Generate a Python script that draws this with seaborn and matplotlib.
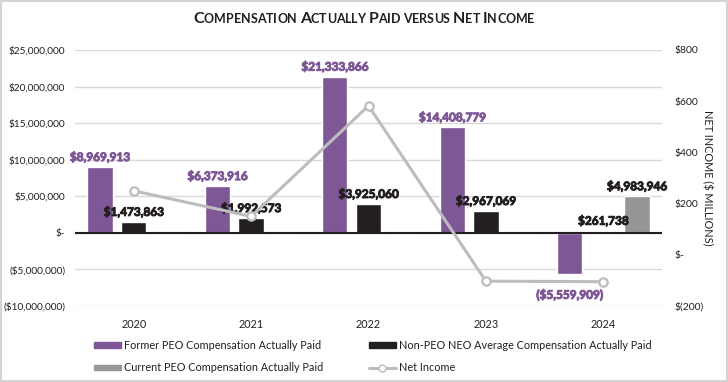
import seaborn as sns
import matplotlib.pyplot as plt
import matplotlib.patheffects as pe
import pandas as pd
from matplotlib.patches import Rectangle
from matplotlib.lines import Line2D
from matplotlib.patches import Patch


years = ['2020', '2021', '2022', '2023', '2024']
series = ['Former PEO Compensation Actually Paid',
          'Non-PEO NEO Average Compensation Actually Paid',
          'Current PEO Compensation Actually Paid']
former_peo = [8969913, 6373916, 21333866, 14408779, -5559909]
non_peo_neo = [1473863, 1992573, 3925060, 2967069, 261738]
current_peo = [0, 0, 0, 0, 4983946]
net_income = [250, 150, 582, -103, -105]  # $ millions

left_ticks = [-10000000, -5000000, 0, 5000000, 10000000, 15000000, 20000000, 25000000]
right_ticks = [-200, 0, 200, 400, 600, 800]

colors = ['#7e5796', '#231f20', '#969696']
label_colors = ['#7e5796', '#231f20', '#231f20']
line_color = '#bdbdbd'


def money(v):
    if v == 0:
        return '$-'
    if v < 0:
        return '(${:,.0f})'.format(-v)
    return '${:,.0f}'.format(v)


def money_right(v):
    if v == 0:
        return '$-'
    if v < 0:
        return '$({:,.0f})'.format(-v)
    return '${:,.0f}'.format(v)


def small_caps(fig, text, y, big=11.5, small=9):
    # fake small caps: upper-case letters big, the rest small upper-case
    r = fig.canvas.get_renderer()
    texts = []
    for word_i, word in enumerate(text.split()):
        if word_i:
            texts.append(fig.text(0, y, ' ', fontsize=small, fontweight='bold', va='baseline'))
        for ch in word:
            size = big if ch.isupper() else small
            texts.append(fig.text(0, y, ch.upper(), fontsize=size, fontweight='bold',
                                  va='baseline', color='#231f20'))
    widths = [t.get_window_extent(r).width for t in texts]
    W = fig.get_figwidth() * fig.dpi
    x = (W - sum(widths)) / 2
    for t, w in zip(texts, widths):
        t.set_x(x / W)
        x += w


df = pd.DataFrame({
    'year': years * 3,
    'series': [series[0]] * 5 + [series[1]] * 5 + [series[2]] * 5,
    'value': former_peo + non_peo_neo + current_peo,
})

sns.set_theme(style='white')
plt.rcParams['font.family'] = ['Lato', 'DejaVu Sans']

fig = plt.figure(figsize=(7.28, 3.82), dpi=100)
ax = fig.add_axes([75 / 728, 1 - 306 / 382, 587 / 728, 256 / 382])

sns.barplot(data=df, x='year', y='value', hue='series', hue_order=series,
            palette=colors, width=0.86, gap=0.25, ax=ax, legend=False,
            saturation=1, errorbar=None, zorder=2)

ax.set_ylim(-10000000, 25000000)
ax.set_xlim(-0.5, 4.5)
ax.set_yticks(left_ticks)
ax.set_yticklabels([money(v) for v in left_ticks], fontsize=7.3, color='#231f20')
ax.tick_params(axis='y', length=0, pad=7)
ax.tick_params(axis='x', length=0, pad=9, labelsize=7.8, labelcolor='#231f20')
ax.grid(axis='y', color='#d9d9d9', lw=1, zorder=0)
ax.set_axisbelow(True)
ax.axhline(0, color='#231f20', lw=1.5, zorder=3)
ax.set_xlabel('')
ax.set_ylabel('')
sns.despine(ax=ax, left=True, bottom=True)

# data labels (a thin stroke makes them heavier, like the original)
values = [former_peo, non_peo_neo, current_peo]
for cont, vals, lc in zip(ax.containers, values, label_colors):
    for bar, v in zip(cont, vals):
        if v == 0:
            continue
        cx = bar.get_x() + bar.get_width() / 2
        fx = [pe.withStroke(linewidth=0.7, foreground=lc)]
        if v > 0:
            ax.annotate(money(v), (cx, v), xytext=(0, 3), textcoords='offset points',
                        ha='center', va='bottom', fontsize=8.5, fontweight='bold',
                        color=lc, path_effects=fx)
        else:
            ax.annotate(money(v), (cx, v), xytext=(0, -11), textcoords='offset points',
                        ha='center', va='top', fontsize=8.5, fontweight='bold',
                        color=lc, path_effects=fx)

# net income on secondary axis
ax2 = ax.twinx()
sns.pointplot(x=years, y=net_income, ax=ax2, color=line_color, linewidth=2.2,
              markers='o', markersize=6, markerfacecolor='white',
              markeredgecolor=line_color, markeredgewidth=1.6, errorbar=None)
ax2.set_xlim(-0.5, 4.5)
ax2.set_ylim(-200, 800)
ax2.set_yticks(right_ticks)
ax2.set_yticklabels([money_right(v) for v in right_ticks], fontsize=7.5, color='#231f20')
ax2.tick_params(axis='y', length=0, pad=9)
ax2.set_ylabel('NET INCOME ($ MILLIONS)', rotation=-90, fontsize=7.8, color='#231f20',
               va='center', ha='center')
ax2.yaxis.set_label_coords((707 - 75) / 587, 0.5)
sns.despine(ax=ax2, left=True, bottom=True, right=True)

# legend
handles = [Patch(color=colors[0]), Patch(color=colors[2]), Patch(color=colors[1]),
           Line2D([], [], color=line_color, lw=2.2, marker='o', markersize=5,
                  markerfacecolor='white', markeredgecolor=line_color)]
labels = [series[0], series[2], series[1], 'Net Income']
fig.legend(handles, labels, ncol=2, loc='upper left', bbox_to_anchor=(84 / 728, 1 - 330 / 382),
           frameon=False, fontsize=7.8, handlelength=2.5, handleheight=0.4,
           handletextpad=0.3, columnspacing=4.2, labelspacing=1.05, labelcolor='#231f20')

small_caps(fig, 'Compensation Actually Paid versus Net Income', 1 - 23 / 382)

fig.add_artist(Rectangle((0, 0), 1, 1, transform=fig.transFigure, fill=False,
                         ec='#d4d4d4', lw=3))

plt.savefig('out.png', dpi=100)
plt.close()
